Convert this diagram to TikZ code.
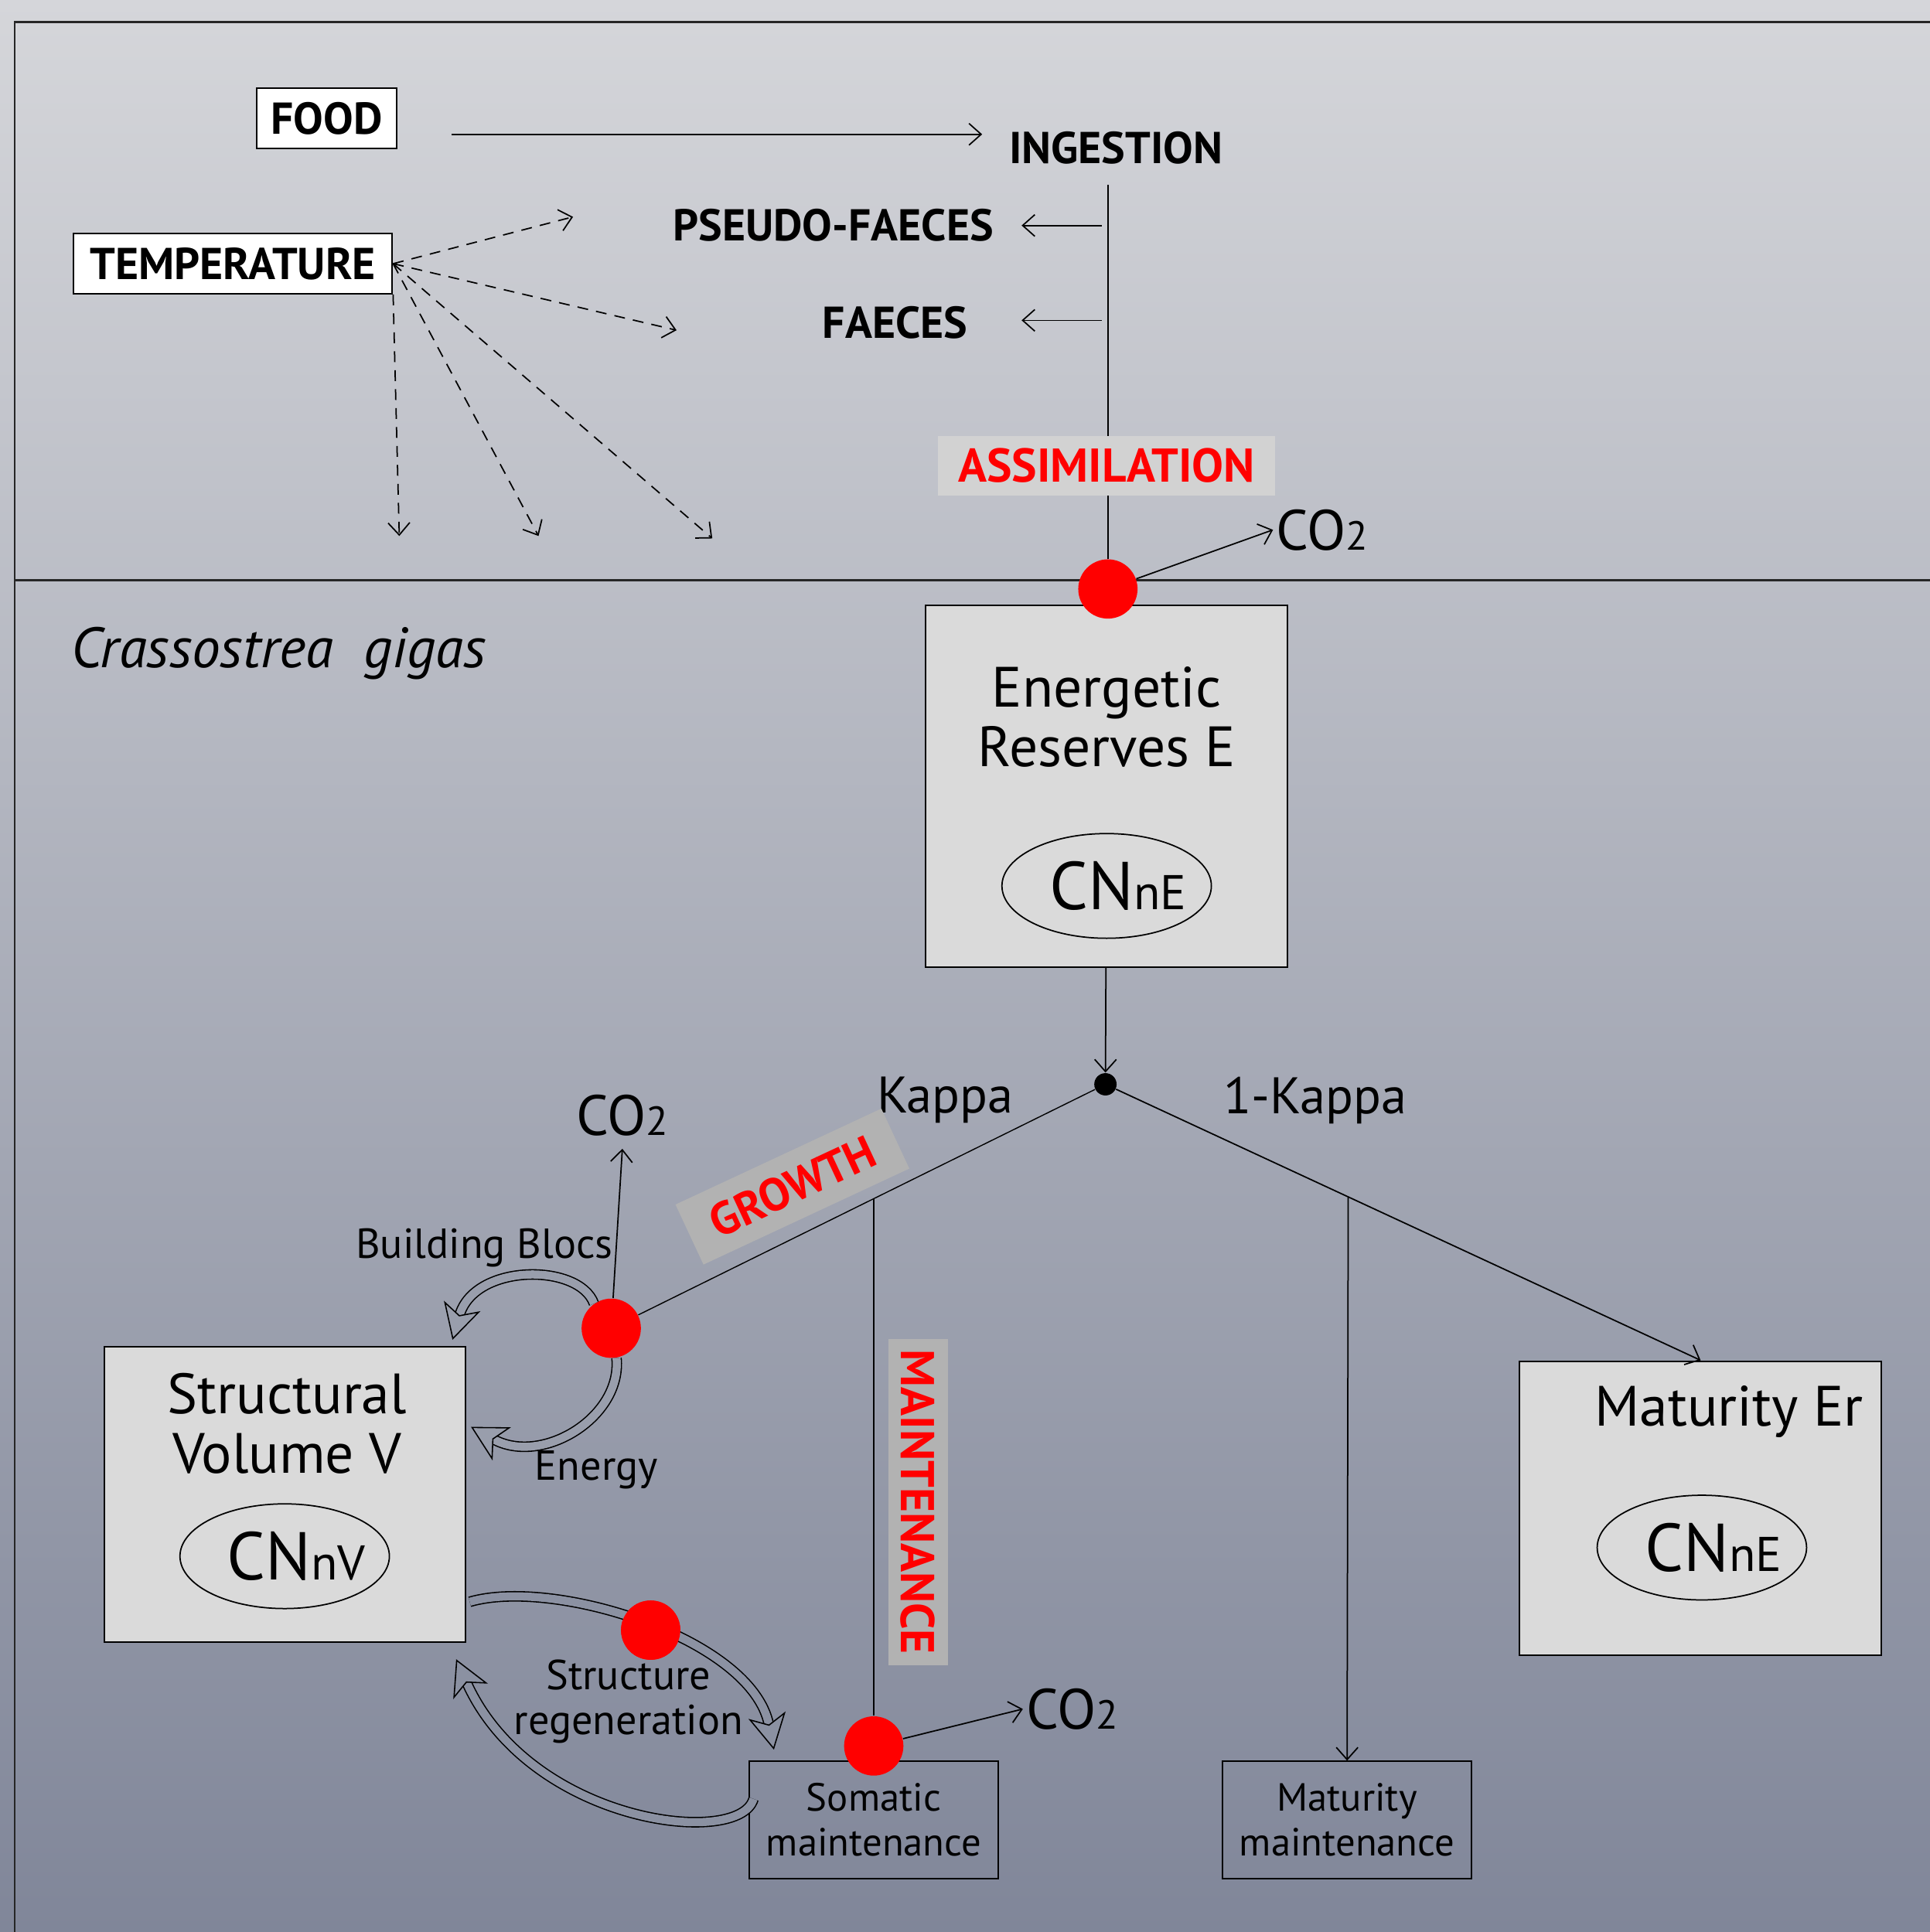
\documentclass[tikz,border=0pt]{standalone}
\usepackage{fontspec}
\setmainfont{PT Sans}
\usetikzlibrary{arrows.meta,calc,positioning,shapes.geometric}

\definecolor{bgtop}{RGB}{213,214,218}
\definecolor{bgbot}{RGB}{128,134,153}
\definecolor{boxgray}{RGB}{218,218,218}
\definecolor{tagpale}{RGB}{210,210,210}
\definecolor{tagdark}{RGB}{178,178,178}
\definecolor{bgA}{RGB}{153,158,172}
\definecolor{bgB}{RGB}{139,145,162}

\newcommand{\cotwo}{CO{\fontsize{15}{15}\selectfont 2}}
\newcommand{\cn}[1]{\makebox[0pt]{\hspace*{0.3cm}{\fontsize{25}{25}\selectfont CN}{\fontsize{18}{18}\selectfont #1}}}

\begin{document}
\begin{tikzpicture}[x=0.016cm, y=-0.016cm, caps/.style={font=\fontsize{16.5}{19}\selectfont\bfseries, inner sep=2pt}, inbox/.style={draw, fill=white, caps, line width=0.6pt, minimum height=0.78cm}, pool/.style={draw, fill=boxgray, line width=0.6pt}, cnring/.style={ellipse, draw, line width=0.5pt, minimum width=2.72cm, minimum height=1.36cm, inner sep=0pt}, sink/.style={draw, line width=0.6pt, minimum width=3.23cm, minimum height=1.52cm, align=center, font=\fontsize{14.5}{16.5}\selectfont}, flux/.style={caps, font=\fontsize{17.5}{20}\selectfont\bfseries, text=red, inner sep=0pt}, reddot/.style={circle, fill=red, inner sep=0pt, minimum size=0.77cm}, gas/.style={font=\fontsize{21}{24}\selectfont, inner sep=1pt}, label/.style={font=\fontsize{15.5}{16.5}\selectfont, align=center}, big/.style={font=\fontsize{21}{22}\selectfont, align=center}, kap/.style={font=\fontsize{19}{22}\selectfont}, arr/.style={-{Straight Barb[length=4.5pt,width=8pt]}, line width=0.5pt}, dasharr/.style={arr, dash pattern=on 4pt off 3pt}, hollow/.style={double=#1, double distance=3pt, line width=0.45pt, -{Stealth[length=13pt, width=14pt, inset=3.5pt, line width=0.45pt, fill=#1]}}]

 \useasboundingbox (0,0) rectangle (1566,1568);
 \shade[top color=bgtop, bottom color=bgbot] (0,0) rectangle (1566,1568);
 \draw[line width=0.7pt, black!85] (1566,18) -- (12,18) -- (12,1568);
 \draw[line width=0.7pt, black!85] (12,471) -- (1566,471);

 \node[inbox, minimum width=1.82cm] (food) at (265,96) {FOOD};
 \node[inbox, minimum width=4.14cm] (temp) at (189,214) {TEMPERATURE};
 \node[caps, anchor=west] (ingestion) at (814,120) {INGESTION};
 \node[caps, anchor=east] (pseudo) at (811,183) {PSEUDO-FAECES};
 \node[caps, anchor=east] (faeces) at (790,262) {FAECES};

 \draw[arr] ($(food.east)+(44,13)$) -- ($(ingestion.west)+(-17,-11)$);

 \coordinate (t1) at (465,176);
 \coordinate (t2) at (549,268);
 \coordinate (t3) at (324,435);
 \coordinate (t4) at (437,435);
 \coordinate (t5) at (578,437);
 \foreach \s/\e in {temp.east/t1, temp.east/t2, temp.south east/t3, temp.east/t4, temp.east/t5}
   \draw[dasharr] (\s) -- (\e);

 \node[pool, minimum width=4.7cm, minimum height=4.7cm] (reserves) at (898,638) {};
 \node[big] (reservesname) at (898,582) {Energetic\\Reserves E};
 \node[cnring] (reservescn) at (898,719) {\cn{nE}};

 \node[reddot] (assimdot) at (899,478) {};
 \draw ($(ingestion.south -| assimdot)+(0,12)$) -- (assimdot);
 \draw[arr] ($(pseudo.east -| assimdot)+(-5,0)$) -- ($(pseudo.east)+(18,0)$);
 \draw[arr] ($(faeces.east -| assimdot)+(-5,-2)$) -- ($(faeces.east)+(39,-2)$);
 \node[flux, fill=tagpale, minimum width=4.38cm, minimum height=0.78cm] (assim) at (898,378) {ASSIMILATION};
 \node[gas, anchor=west] (co2top) at (1033,430) {\cotwo};
 \draw[arr] (assimdot) -- (co2top.west);

 \node[font=\fontsize{21}{25}\selectfont\itshape, anchor=west] (species) at (50,530) {Crassostrea\ \ gigas};

 \node[circle, fill=black, inner sep=0pt, minimum size=0.29cm] (split) at (897,880) {};
 \draw[arr] (reserves) -- (split);
 \node[kap] (kappa) at (767,893) {Kappa};
 \node[kap] (onekappa) at (1067,893) {1-Kappa};

 \node[pool, minimum width=4.69cm, minimum height=3.84cm] (struct) at (231,1213) {};
 \node[big] (structname) at (233,1155) {Structural\\Volume V};
 \node[cnring] (structcn) at (231,1263) {\cn{nV}};

 \node[pool, minimum width=4.7cm, minimum height=3.82cm] (maturity) at (1380,1224) {};
 \node[big] (maturityname) at (1403,1146) {Maturity Er};
 \node[cnring] (maturitycn) at (1381,1256) {\cn{nE}};

 \node[sink] (soma) at (709,1477) {Somatic\\maintenance};
 \node[sink] (matmaint) at (1093,1477) {Maturity\\maintenance};

 \node[reddot] (growthdot) at (496,1078) {};
 \node[reddot] (regendot) at (528,1323) {};
 \node[reddot] (somadot) at (709,1417) {};

 \draw (split) -- (growthdot);
 \draw[arr] (split) -- (maturity.north);
 \node[flux, font=\fontsize{17}{20}\selectfont\bfseries, fill=tagdark, rotate=25, minimum width=2.95cm, minimum height=0.86cm] (growth) at (643,963) {GROWTH};

 \coordinate (kmaint) at (709,973);
 \coordinate (kmat) at (1094,972);
 \draw (kmaint) -- (somadot);
 \draw[arr] (kmat) -- (matmaint);
 \node[flux, fill=tagdark, rotate=-90, minimum width=4.24cm, minimum height=0.77cm] (maint) at (745,1219) {MAINTENANCE};

 \node[gas] (co2growth) at (505,905) {\cotwo};
 \draw[arr] (growthdot) -- ($(co2growth.south)+(0,8)$);
 \node[gas, anchor=west] (co2soma) at (830,1387) {\cotwo};
 \draw[arr] (somadot) -- (co2soma.west);

 \node[label] (blocs) at (393,1013) {Building Blocs};
 \node[label] (energy) at (484,1193) {Energy};
 \node[label] (regen) at (510,1381) {Structure\\regeneration};

 \draw[hollow=bgA] (growthdot.125) .. controls (470,1025) and (385,1025) .. ($(struct.north east)+(-11,-5)$);
 \draw[hollow=bgA] (growthdot.-80) .. controls (505,1150) and (440,1190) .. ($(struct.east)+(4,-55)$);
 \draw[hollow=bgB] ($(struct.east)+(3,87)$) .. controls (450,1280) and (610,1330) .. (628,1420);
 \draw[hollow=bgB] ($(soma.west)+(4,-17)$) .. controls (600,1500) and (430,1480) .. ($(struct.south east)+(-8,13)$);
 \node[reddot] at (regendot) {};
\end{tikzpicture}
\end{document}
